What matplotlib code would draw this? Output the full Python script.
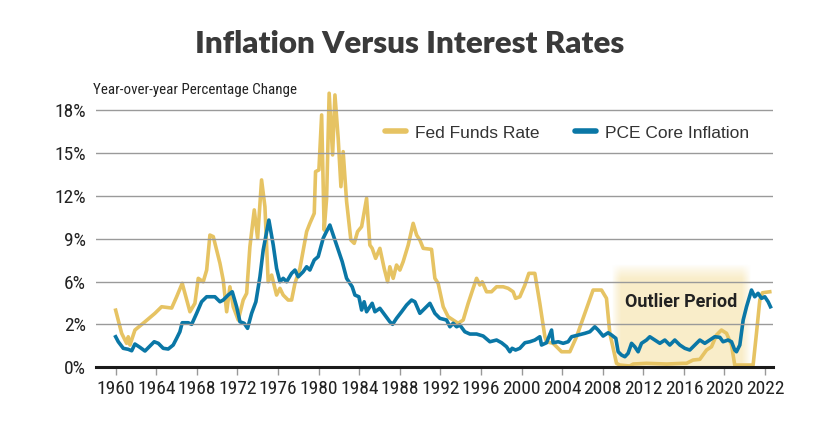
import numpy as np
import matplotlib
matplotlib.use("Agg")
import matplotlib.pyplot as plt
from matplotlib.lines import Line2D

# Fed funds rate (year, percent)
fed_years = [1960.0, 1960.59, 1961.08, 1961.24, 1961.41, 1961.9, 1962.89, 1963.87, 1964.53,
             1965.52, 1966.01, 1966.56, 1967.32, 1967.81, 1968.14, 1968.63, 1968.97, 1969.29,
             1969.62, 1969.95, 1970.28, 1970.6, 1970.94, 1971.26, 1971.59, 1972.08, 1972.57,
             1972.91, 1973.23, 1973.66, 1973.99, 1974.38, 1974.71, 1975.03, 1975.37, 1975.86,
             1976.19, 1976.51, 1977.0, 1977.34, 1977.67, 1978.16, 1978.82, 1979.14, 1979.57,
             1979.7, 1980.03, 1980.3, 1980.55, 1980.79, 1981.04, 1981.38, 1981.61, 1981.93,
             1982.2, 1982.42, 1982.76, 1983.18, 1983.51, 1983.84, 1984.24, 1984.73, 1985.05,
             1985.28, 1985.62, 1986.04, 1986.46, 1986.8, 1987.02, 1987.35, 1987.68, 1988.01,
             1988.33, 1988.83, 1989.32, 1989.66, 1989.98, 1990.31, 1991.13, 1991.46, 1991.78,
             1992.28, 1992.77, 1993.75, 1994.25, 1994.74, 1995.23, 1995.57, 1995.89, 1996.12,
             1996.55, 1997.04, 1997.54, 1998.19, 1998.68, 1999.17, 1999.41, 1999.83, 2000.33,
             2000.72, 2001.31, 2001.8, 2002.3, 2002.46, 2003.11, 2003.45, 2003.94, 2004.76,
             2005.42, 2006.24, 2007.05, 2007.88, 2008.37, 2008.7, 2009.36, 2009.68, 2010.67,
             2011.0, 2012.3, 2014.3, 2015.9, 2016.26, 2016.9, 2017.57, 2018.23, 2018.72,
             2019.21, 2019.7, 2020.2, 2020.69, 2021.01, 2022.82, 2023.15, 2023.48, 2023.74,
             2024.46]
fed_rate = [4.0, 2.38, 1.68, 2.14, 1.56, 2.61, 3.19, 3.78, 4.24,
            4.15, 4.94, 5.88, 3.89, 4.48, 6.23, 5.99, 6.81, 9.26,
            9.15, 8.21, 7.28, 6.11, 3.89, 5.64, 4.24, 3.31, 4.71,
            5.18, 8.45, 11.02, 9.03, 13.12, 11.25, 5.99, 6.46, 5.06,
            5.53, 5.06, 4.71, 4.71, 5.88, 6.93, 9.5, 10.08, 10.78,
            13.7, 13.82, 17.67, 9.61, 11.83, 19.19, 14.87, 19.07, 16.04,
            12.65, 15.1, 11.6, 8.91, 8.68, 9.5, 9.85, 11.83, 8.56,
            8.33, 7.63, 8.33, 6.93, 5.99, 7.04, 6.23, 7.16, 6.81,
            7.39, 8.56, 10.08, 9.26, 8.91, 8.33, 8.26, 6.23, 5.88,
            4.24, 3.54, 3.08, 3.31, 4.48, 5.53, 6.23, 5.76, 5.99,
            5.29, 5.29, 5.64, 5.64, 5.53, 5.29, 4.83, 4.94, 5.76,
            6.58, 6.58, 4.48, 2.14, 1.79, 1.68, 1.44, 1.09, 1.09,
            2.14, 3.78, 5.41, 5.41, 4.83, 2.38, 0.28, 0.16, 0.09,
            0.23, 0.28, 0.23, 0.28, 0.28, 0.51, 0.56, 1.21, 1.44,
            2.26, 2.61, 2.38, 1.56, 0.16, 0.16, 2.38, 4.71, 5.22,
            5.29]

# PCE core inflation (year, percent)
pce_years = [1960.0, 1960.26, 1960.75, 1961.24, 1961.58, 1961.9, 1962.39, 1962.89, 1963.38,
             1963.8, 1964.2, 1964.69, 1965.18, 1965.67, 1966.01, 1966.33, 1966.56, 1967.15,
             1967.49, 1967.98, 1968.47, 1968.97, 1969.78, 1970.28, 1970.6, 1971.09, 1971.49,
             1971.92, 1972.25, 1972.67, 1973.0, 1973.4, 1973.82, 1974.22, 1974.54, 1975.1,
             1975.53, 1975.86, 1976.19, 1976.51, 1976.85, 1977.34, 1977.67, 1977.99, 1978.48,
             1978.82, 1979.14, 1979.57, 1979.96, 1980.45, 1980.69, 1981.11, 1981.44, 1981.87,
             1982.33, 1982.76, 1983.31, 1983.58, 1983.97, 1984.24, 1984.49, 1984.73, 1985.28,
             1985.55, 1986.04, 1986.53, 1987.02, 1987.29, 1987.68, 1988.18, 1988.67, 1989.16,
             1989.49, 1989.98, 1990.47, 1990.97, 1991.46, 1991.95, 1992.61, 1992.94, 1993.26,
             1993.6, 1993.92, 1994.41, 1994.91, 1995.57, 1996.22, 1996.88, 1997.54, 1998.03,
             1998.52, 1998.85, 1999.07, 1999.41, 1999.83, 2000.33, 2000.82, 2001.31, 2001.8,
             2001.97, 2002.46, 2002.96, 2003.11, 2003.61, 2004.1, 2004.59, 2004.93, 2005.58,
             2006.24, 2006.73, 2007.22, 2007.55, 2008.04, 2008.53, 2008.87, 2009.29, 2009.52,
             2009.85, 2010.18, 2010.5, 2010.84, 2011.16, 2011.49, 2011.82, 2012.31, 2012.64,
             2013.13, 2013.63, 2014.12, 2014.61, 2015.1, 2015.6, 2016.09, 2016.58, 2017.08,
             2017.57, 2018.06, 2018.55, 2019.04, 2019.54, 2019.86, 2020.35, 2020.69, 2021.01,
             2021.18, 2021.51, 2021.84, 2022.17, 2022.66, 2022.98, 2023.31, 2023.65, 2023.97,
             2024.3, 2024.53]
pce_rate = [2.14, 1.79, 1.33, 1.26, 1.16, 1.63, 1.4, 1.14, 1.49,
            1.79, 1.68, 1.33, 1.28, 1.56, 2.03, 2.49, 3.12, 3.12,
            3.01, 3.78, 4.59, 4.94, 4.94, 4.59, 4.71, 5.06, 5.29,
            4.24, 3.19, 3.08, 2.73, 3.78, 4.59, 6.34, 8.21, 10.31,
            8.56, 6.93, 5.99, 6.23, 5.99, 6.58, 6.81, 6.34, 6.69,
            7.04, 6.81, 7.51, 7.75, 9.03, 9.38, 9.96, 9.26, 8.33,
            7.39, 6.23, 5.64, 5.06, 4.94, 4.01, 4.59, 3.89, 4.48,
            3.89, 4.13, 3.66, 3.19, 3.01, 3.43, 3.89, 4.36, 4.71,
            4.59, 3.78, 4.13, 4.48, 3.78, 3.43, 3.31, 2.84, 3.08,
            2.84, 2.96, 2.49, 2.33, 2.33, 2.19, 1.79, 1.91, 1.72,
            1.44, 1.09, 1.33, 1.21, 1.33, 1.72, 1.79, 1.91, 2.14,
            1.56, 1.72, 2.61, 1.72, 1.79, 1.68, 1.79, 2.14, 2.26,
            2.38, 2.49, 2.84, 2.61, 2.19, 2.42, 2.26, 2.03, 1.09,
            0.86, 0.74, 0.98, 1.68, 1.44, 1.09, 1.68, 1.91, 2.14,
            1.91, 1.68, 1.91, 1.56, 1.91, 1.56, 1.33, 1.21, 1.56,
            1.91, 1.68, 1.91, 2.14, 2.1, 1.79, 1.91, 1.79, 1.21,
            1.09, 1.56, 3.31, 4.24, 5.41, 4.94, 5.18, 4.83, 4.94,
            4.59, 4.24]

tick_years = list(range(1960, 2025, 4))
tick_labels = [str(y) for y in range(1960, 2021, 4)] + ["2022"]
y_ticks = [0, 3, 6, 9, 12, 15, 18]
y_labels = ["0%", "2%", "6%", "9%", "12%", "15%", "18%"]

outlier_start, outlier_end, outlier_top = 2008.87, 2022.56, 7.16

GOLD = "#E6C363"
BLUE = "#0A77A6"
NARROW = ["DejaVu Sans Condensed", "Roboto Condensed", "Roboto", "DejaVu Sans"]

fig = plt.figure(figsize=(8.4, 4.4), dpi=100)
ax = fig.add_axes([0.114, 0.1652, 0.806, 0.6362])

# shaded outlier period with soft edges
nx, ny = 300, 120
gx = np.linspace(outlier_start, outlier_end, nx)
gy = np.linspace(0, outlier_top, ny)
fx = np.clip(np.minimum(gx - outlier_start, outlier_end - gx) / 0.9, 0, 1)
fy = np.clip((outlier_top - gy) / 1.0, 0, 1)
alpha = np.outer(fy, fx) ** 0.8
img = np.zeros((ny, nx, 4))
img[..., 0] = 0.98
img[..., 1] = 0.93
img[..., 2] = 0.79
img[..., 3] = alpha
ax.imshow(img, extent=[outlier_start, outlier_end, 0, outlier_top], origin="lower",
          aspect="auto", zorder=0.5)
ax.text((outlier_start + outlier_end) / 2, 4.57, "Outlier Period", ha="center",
        va="center", fontsize=13, fontweight="bold", family="Roboto", color="#222222",
        zorder=3)

ax.plot(fed_years, fed_rate, color=GOLD, lw=2.6, zorder=2, clip_on=False,
        solid_joinstyle="round")
ax.plot(pce_years, pce_rate, color=BLUE, lw=2.6, zorder=2.1, clip_on=False,
        solid_joinstyle="round")

ax.set_xlim(1958.04, 2024.76)
ax.set_ylim(0, 19.6)
for s in ["top", "right", "left"]:
    ax.spines[s].set_visible(False)
ax.spines["bottom"].set_color("#1a1a1a")
ax.spines["bottom"].set_linewidth(2.2)
ax.spines["bottom"].set_zorder(4)

ax.set_yticks(y_ticks)
ax.set_yticklabels(y_labels, family=NARROW, fontsize=14, color="#222222")
ax.tick_params(axis="y", length=0, pad=7)
ax.set_xticks(tick_years)
ax.set_xticklabels(tick_labels, family=NARROW, fontsize=14, color="#222222")
ax.tick_params(axis="x", length=6, width=1, color="#999999", pad=3)
ax.grid(axis="y", color="#9a9a9a", lw=1.0, zorder=1)
ax.set_axisbelow(False)
for gl in ax.get_ygridlines():
    gl.set_zorder(1)

handles = [Line2D([], [], color=GOLD, lw=4, solid_capstyle="round"),
           Line2D([], [], color=BLUE, lw=4, solid_capstyle="round")]
fig.legend(handles, ["Fed Funds Rate", "PCE Core Inflation"], ncol=2, frameon=False,
           loc="center left", bbox_to_anchor=(385 / 840, 1 - 133 / 440),
           prop={"family": "Liberation Sans", "size": 12.5}, labelcolor="#333333",
           handlelength=1.2, handletextpad=0.5, columnspacing=2.1,
           borderpad=0, borderaxespad=0)

fig.text(410 / 840, 1 - 44 / 440, "Inflation Versus Interest Rates", ha="center",
         va="center", fontsize=22.5, fontweight="heavy", family="Lato", color="#3a3a3a")
fig.text(93 / 840, 1 - 90 / 440, "Year-over-year Percentage Change", ha="left",
         va="center", fontsize=10.8, family=NARROW, color="#222222")

fig.savefig("out.png", dpi=100)
plt.close(fig)
